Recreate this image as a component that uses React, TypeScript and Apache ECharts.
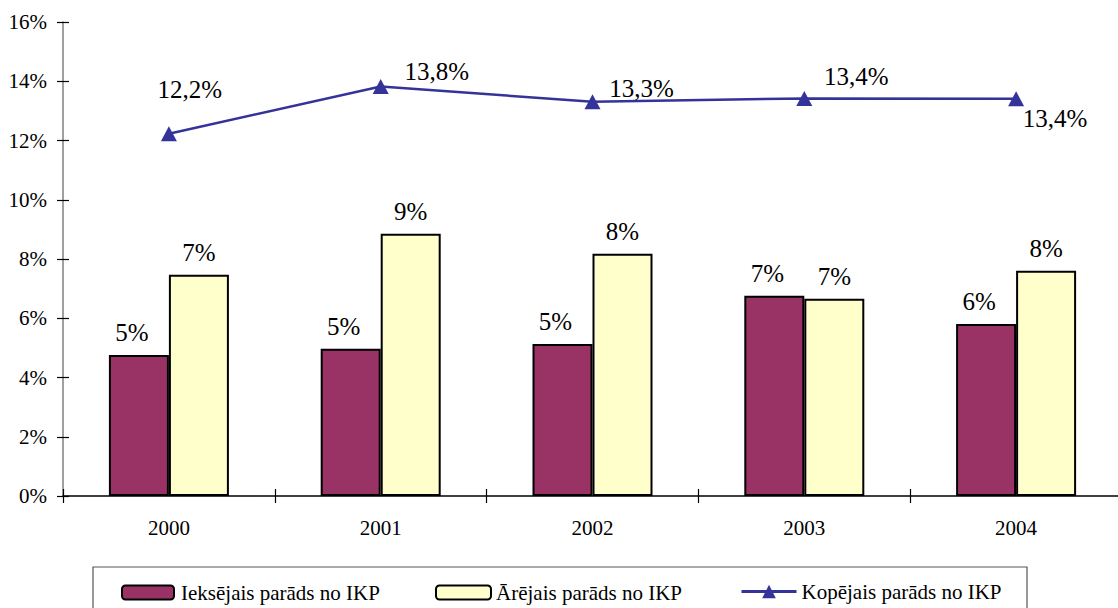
import React, { useEffect, useRef } from "react";
import * as echarts from "echarts";

const years = ["2000", "2001", "2002", "2003", "2004"];
const domestic = [4.76, 4.97, 5.13, 6.76, 5.81];
const external = [7.47, 8.85, 8.18, 6.66, 7.6];
const total = [12.23, 13.82, 13.31, 13.42, 13.41];
const seriesNames = ["Ieksējais parāds no IKP", "Ārējais parāds no IKP", "Kopējais parāds no IKP"];

// label offsets (layout only)
const lineLabelOffsets = [
  [21, -44],
  [56, -15],
  [49, -13],
  [52, -22],
  [39, 20],
];

const FONT = "'Liberation Serif', 'Times New Roman', serif";

export default function App() {
  const ref = useRef<HTMLDivElement>(null);
  useEffect(() => {
    if (!ref.current) return;
    const chart = echarts.init(ref.current, null, { renderer: "svg" });
    const gridLeft = 63;
    const gridTop = 22;
    const gridH = 474;
    const gridW = 1059;
    const axisMin = 0, axisMax = 16, axisInt = 2;
    const legendText = { fontFamily: FONT, fontSize: 21, color: "#000" };
    chart.setOption({
      animation: false,
      backgroundColor: "#ffffff",
      textStyle: { fontFamily: FONT, color: "#000" },
      grid: {
        left: gridLeft,
        top: gridTop,
        width: gridW,
        height: gridH,
        containLabel: false,
        outerBoundsMode: "none",
      },
      xAxis: [
        {
          type: "category",
          data: years,
          position: "bottom",
          axisLine: { lineStyle: { color: "#000", width: 1.5 } },
          axisTick: { show: true, inside: false, length: 7, lineStyle: { color: "#000", width: 1.2 } },
          axisLabel: { fontFamily: FONT, fontSize: 21, color: "#000", margin: 21 },
        },
        {
          type: "category",
          data: years,
          position: "top",
          offset: -gridH,
          axisLine: { show: false },
          axisTick: { show: true, inside: false, length: 7, lineStyle: { color: "#000", width: 1.2 } },
          axisLabel: { show: false },
        },
      ],
      yAxis: [
        {
          type: "value",
          min: axisMin,
          max: axisMax,
          interval: axisInt,
          position: "left",
          splitLine: { show: false },
          axisLine: { show: true, lineStyle: { color: "#808080", width: 1.5 } },
          axisTick: { show: true, inside: false, length: 6, lineStyle: { color: "#000", width: 1.2 } },
          axisLabel: {
            fontFamily: FONT,
            fontSize: 21,
            color: "#000",
            margin: 16,
            formatter: (v: number) => `${v}%`,
          },
        },
        {
          type: "value",
          min: axisMin,
          max: axisMax,
          interval: axisInt,
          position: "right",
          offset: -gridW,
          splitLine: { show: false },
          axisLine: { show: false },
          axisTick: { show: true, inside: false, length: 6, lineStyle: { color: "#000", width: 1.2 } },
          axisLabel: { show: false },
        },
      ],
      legend: [
        {
          data: [seriesNames[0]],
          left: 121,
          top: 582,
          padding: 0,
          itemWidth: 52,
          itemHeight: 14,
          itemGap: 0,
          textStyle: { ...legendText, padding: [0, 0, 0, 2] },
        },
        {
          data: [seriesNames[1]],
          left: 435,
          top: 582,
          padding: 0,
          itemWidth: 55,
          itemHeight: 14,
          itemGap: 0,
          textStyle: legendText,
        },
        {
          data: [seriesNames[2]],
          left: 740,
          top: 581,
          padding: 0,
          itemWidth: 55,
          itemHeight: 17,
          itemGap: 0,
          lineStyle: { width: 3, color: "#333399" },
          textStyle: legendText,
        },
      ],
      graphic: [
        {
          type: "rect",
          shape: { x: 93, y: 567, width: 934, height: 60 },
          style: { fill: "none", stroke: "#555", lineWidth: 1.2 },
          silent: true,
        },
      ],
      series: [
        {
          name: seriesNames[0],
          type: "bar",
          data: domestic,
          barWidth: 60,
          barGap: "0%",
          itemStyle: { color: "#993366", borderColor: "#000", borderWidth: 2 },
          label: {
            show: true,
            position: "top",
            distance: 10,
            offset: [-7, 0],
            fontFamily: FONT,
            fontSize: 25,
            color: "#000",
            formatter: (p: any) => `${Math.round(p.value)}%`,
          },
        },
        {
          name: seriesNames[1],
          type: "bar",
          data: external,
          barWidth: 60,
          barGap: "0%",
          itemStyle: { color: "#FFFFCC", borderColor: "#000", borderWidth: 2 },
          label: {
            show: true,
            position: "top",
            distance: 10,
            fontFamily: FONT,
            fontSize: 25,
            color: "#000",
            formatter: (p: any) => `${Math.round(p.value)}%`,
          },
        },
        {
          name: seriesNames[2],
          type: "line",
          data: total.map((v, i) => ({
            value: v,
            label: {
              show: true,
              position: "inside",
              align: "center",
              verticalAlign: "middle",
              offset: lineLabelOffsets[i],
              fontFamily: FONT,
              fontSize: 25,
              color: "#000",
              formatter: (p: any) => `${Number(p.value).toFixed(1).replace(".", ",")}%`,
            },
          })),
          symbol: "triangle",
          symbolSize: [16, 15],
          lineStyle: { color: "#333399", width: 2.5 },
          itemStyle: { color: "#333399" },
        },
      ],
    });
    return () => chart.dispose();
  }, []);
  return (
    <div
      ref={ref}
      style={{ position: "absolute", left: 0, top: 0, width: 1118, height: 608 }}
    />
  );
}
